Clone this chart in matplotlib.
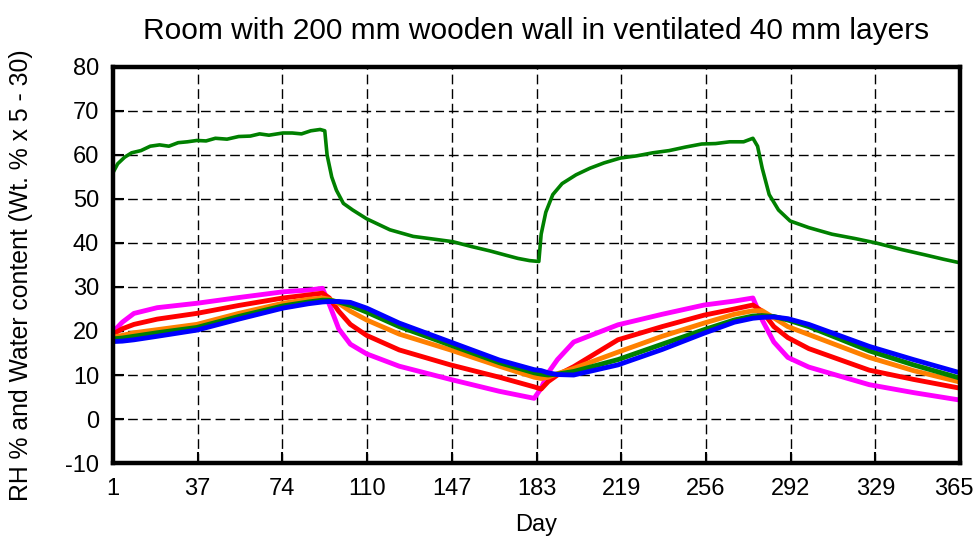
import numpy as np
import matplotlib
matplotlib.use("Agg")
import matplotlib.pyplot as plt
import matplotlib.transforms as mtransforms

plt.rcParams['font.family'] = ['Liberation Sans', 'DejaVu Sans']
plt.rcParams['axes.unicode_minus'] = False

# room RH (%)
rh_days = [1, 3, 6, 9, 13, 17, 21, 25, 29, 33, 37, 41, 45, 50, 55, 60, 64, 68, 74, 78,
           82, 86, 90, 92, 93, 95, 97, 100, 104, 110, 120, 130, 140, 147, 155, 163, 170,
           175, 180, 184, 185, 187, 190, 194, 200, 206, 212, 219, 226, 233, 240, 247,
           254, 260, 266, 272, 276, 278, 280, 283, 287, 292, 300, 310, 320, 329, 340,
           350, 358, 365]
rh_vals = [56, 58, 59.5, 60.5, 61, 62, 62.3, 62, 62.8, 63, 63.3, 63.2, 63.8, 63.6, 64.2,
           64.3, 64.8, 64.5, 65, 65, 64.8, 65.5, 65.8, 65.5, 60, 55, 52, 49, 47.5, 45.5,
           43, 41.5, 40.8, 40.3, 39.2, 38.2, 37.2, 36.5, 36, 35.8, 42, 47, 51, 53.5,
           55.5, 57, 58.2, 59.3, 59.8, 60.5, 61, 61.8, 62.5, 62.6, 63, 63, 63.8, 62, 57,
           51, 47.5, 45, 43.5, 42, 41, 40, 38.5, 37.3, 36.3, 35.5]

# water content of the wall layers (Wt. % x 5 - 30)
days = [1, 5, 10, 20, 37, 55, 74, 85, 91, 94, 98, 103, 110, 124, 146, 167, 182, 185,
        188, 192, 199, 218, 237, 255, 268, 276, 280, 285, 291, 300, 326, 345, 365]
layer1 = [19.8, 22, 24, 25.3, 26.3, 27.6, 28.9, 29.3, 29.7, 26, 20.5, 17, 14.8, 12, 9,
          6.3, 4.7, 7, 10.5, 13.5, 17.5, 21.4, 23.8, 25.9, 26.8, 27.5, 22.5, 17.5, 14,
          11.8, 7.8, 6, 4.3]
layer2 = [19.3, 20.5, 21.5, 22.7, 24, 25.8, 27.5, 28.2, 28.6, 27.5, 24.5, 21.5, 19,
          15.7, 12.3, 9.5, 7.3, 6.8, 8.5, 10, 11.9, 18, 21, 23.6, 25, 25.9, 24.5, 21,
          18.5, 16, 11.1, 9, 7]
layer3 = [18.6, 19, 19.6, 20.3, 21.5, 24, 26.3, 27.2, 27.5, 27.2, 26.3, 24.5, 22.5,
          19.3, 15.7, 12, 9.5, 9.2, 9.5, 10.3, 11.5, 15.2, 18.8, 21.8, 23.8, 24.6, 24.6,
          23, 21, 19.2, 14, 11, 8.4]
layer4 = [18.2, 18.4, 18.8, 19.6, 20.8, 23.3, 25.7, 26.6, 27, 27, 26.6, 25.8, 24.3, 21,
          16.8, 12.8, 10.5, 10.2, 10, 10.2, 10.8, 13.5, 17, 20.3, 22.5, 23.4, 23.5, 23.3,
          22.5, 21, 15.5, 12.3, 9.3]
layer5 = [17.6, 17.7, 18, 18.8, 20.2, 22.7, 25.2, 26.2, 26.6, 26.7, 26.7, 26.5, 25.2,
          21.8, 17.5, 13.4, 11.2, 11, 10.5, 10.1, 10, 12.3, 15.8, 19.5, 22, 22.9, 23.1,
          23.2, 22.8, 21.5, 16.5, 13.5, 10.5]

xtick_labels = ['1', '37', '74', '110', '147', '183', '219', '256', '292', '329', '365']

fig = plt.figure(figsize=(9.76, 5.39), dpi=100)
ax = fig.add_axes([0.1158, 0.141, 0.8678, 0.7347])

ax.plot(rh_days, rh_vals, color='#008000', lw=2.6)
for vals, col in zip([layer1, layer2, layer3, layer4, layer5],
                     ['#ff00ff', '#ff0000', '#ff8000', '#008000', '#0000ff']):
    ax.plot(days, vals, color=col, lw=3.5)

ax.set_xlim(1, 365)
ax.set_ylim(-10, 80)
ax.set_xticks(np.linspace(1, 365, 11))
ax.set_xticklabels(xtick_labels)
ax.set_yticks(np.arange(-10, 81, 10))
ax.grid(True, color='black', linestyle=(0, (7, 3.5)), linewidth=1.0)
ax.tick_params(direction='in', length=8, width=1.5, labelsize=17)
ax.tick_params(axis='x', pad=11)
ax.tick_params(axis='y', pad=10)
for s in ax.spines.values():
    s.set_linewidth(3.2)

# keep the last day label inside the figure
last = ax.get_xticklabels()[-1]
last.set_horizontalalignment('right')
last.set_transform(last.get_transform() + mtransforms.ScaledTranslation(14 / 100, 0, fig.dpi_scale_trans))

ax.set_title('Room with 200 mm wooden wall in ventilated 40 mm layers', fontsize=21.5, pad=20)
ax.set_xlabel('Day', fontsize=17, labelpad=10)
ax.set_ylabel('RH % and Water content (Wt. % x 5 - 30)', fontsize=17.8)
ax.yaxis.set_label_coords(-0.094, 0.475)

fig.savefig('out.png', dpi=100)
